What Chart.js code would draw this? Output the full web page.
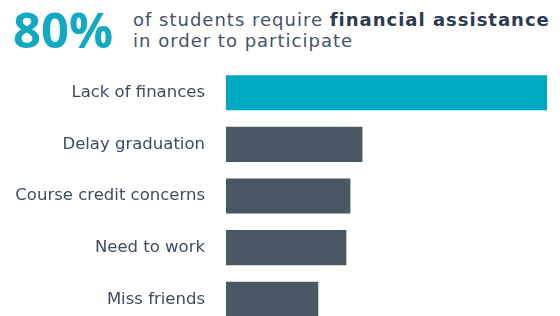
<!DOCTYPE html>
<html>
<head>
<meta charset="utf-8">
<script src="https://cdn.jsdelivr.net/npm/chart.js@4/dist/chart.umd.min.js"></script>
<style>
  html, body { margin: 0; padding: 0; background: #fff; width: 560px; height: 316px; overflow: hidden; position: relative; }
  #big { position: absolute; left: 13px; top: -3px; font-family: "Open Sans", sans-serif; font-size: 49px; line-height: 64px; font-weight: 700; color: #12a9c2; }
  #sub { position: absolute; left: 133px; top: 9px; font-family: "DejaVu Sans", sans-serif; font-size: 18px; line-height: 21px; letter-spacing: 1px; color: #435369; white-space: nowrap; }
  #sub b { color: #2c3b4f; font-weight: 700; }
  #c { position: absolute; left: 0; top: 44px; }
</style>
</head>
<body>
<div id="big">80%</div>
<div id="sub">of students require <b>financial assistance</b><br>in order to participate</div>
<canvas id="c" width="560" height="304"></canvas>
<script>
const categories = ["Lack of finances", "Delay graduation", "Course credit concerns", "Need to work", "Miss friends"];
const values = [80, 34, 31, 30, 23];
const barColors = ["#00a9c2", "#4a5764", "#4a5764", "#4a5764", "#4a5764"];

new Chart(document.getElementById('c'), {
  type: 'bar',
  data: {
    labels: categories,
    datasets: [{
      data: values,
      backgroundColor: barColors,
      borderWidth: 0,
      categoryPercentage: 1,
      barPercentage: 0.68
    }]
  },
  options: {
    indexAxis: 'y',
    responsive: false,
    maintainAspectRatio: false,
    animation: false,
    layout: { padding: { left: 0, right: 13, top: 0, bottom: 0 } },
    plugins: { legend: { display: false }, tooltip: { enabled: false } },
    scales: {
      x: { display: false, min: 0, max: 80 },
      y: {
        grid: { display: false },
        border: { display: false },
        ticks: {
          color: '#3d4c62',
          font: { family: 'DejaVu Sans', size: 16.5 },
          padding: 13
        },
        afterFit: (scale) => { scale.width = 226; }
      }
    }
  }
});
</script>
</body>
</html>
